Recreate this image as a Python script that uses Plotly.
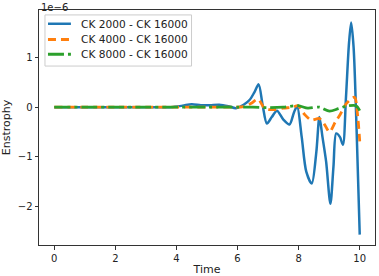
import plotly.graph_objects as go

# values in units of 1e-6
t_blue = [0, 1, 2, 3, 3.8, 4.2, 4.5, 4.8, 5.1, 5.4, 5.7, 5.95, 6.2, 6.4, 6.55, 6.69, 6.82, 6.96, 7.12,
          7.29, 7.5, 7.7, 7.85, 7.95, 8.1, 8.25, 8.43, 8.58, 8.68, 8.78, 8.9, 9.04, 9.14, 9.23, 9.35,
          9.45, 9.55, 9.65, 9.72, 9.8, 9.9, 10.0]
v_blue = [0, 0, 0, 0, 0, 0.03, 0.06, 0.04, 0.04, 0.05, 0.02, -0.02, 0.05, 0.15, 0.3, 0.46, 0.05, -0.33,
          -0.2, -0.07, -0.25, -0.35, -0.1, 0.02, -0.6, -1.3, -1.54, -0.9, -0.2, -0.6, -1.1, -1.95, -1.2,
          -0.53, -0.6, -0.76, 0.2, 1.3, 1.71, 1.2, -0.5, -2.57]

t_orange = [0, 1, 2, 3, 4, 5, 5.8, 6.2, 6.45, 6.67, 6.9, 7.2, 7.5, 7.8, 7.98, 8.2, 8.41, 8.68, 8.85,
            9.01, 9.2, 9.34, 9.56, 9.83, 9.92, 10.0]
v_orange = [0, 0, 0, 0, 0, 0, 0, 0.01, 0.08, 0.16, -0.03, -0.05, -0.02, 0.0, 0.03, -0.15, -0.26, -0.23,
            -0.35, -0.5, -0.3, -0.17, 0.07, 0.2, -0.1, -0.69]

t_green = [0, 1, 2, 3, 4, 5, 6, 6.5, 7, 7.5, 7.98, 8.3, 8.68, 9.01, 9.3, 9.56, 9.88, 10.0]
v_green = [0, 0, 0, 0, 0, 0, 0, 0, -0.01, 0.0, 0.03, -0.02, 0.0, -0.08, -0.03, 0.02, 0.03, -0.07]

names = ["CK 2000 - CK 16000", "CK 4000 - CK 16000", "CK 8000 - CK 16000"]
colors = ["#1f77b4", "#ff7f0e", "#2ca02c"]
dashes = ["solid", "8px,5px", "16px,4px,3px,4px"]
widths = [2.5, 2.8, 2.8]

x_ticks = [0, 2, 4, 6, 8, 10]
y_ticks = [-2, -1, 0, 1]
y_ticktext = ["\u22122", "\u22121", "0", "1"]

series = [(t_blue, v_blue), (t_orange, v_orange), (t_green, v_green)]

fig = go.Figure()
for (tx, vy), nm, c, d, w in zip(series, names, colors, dashes, widths):
    fig.add_trace(go.Scatter(x=tx, y=vy, mode="lines", name=nm, showlegend=False,
                             line=dict(color=c, width=w, dash=d, shape="spline", smoothing=0.8)))

font = "DejaVu Sans"

# manual legend (matplotlib-like), positions in plot-area paper coordinates
shapes = [dict(type="rect", xref="paper", yref="paper", x0=0.0178, x1=0.454, y0=0.7615, y1=0.979,
               line=dict(color="#cccccc", width=1), fillcolor="rgba(255,255,255,0.8)", layer="above")]
annotations = []
row_y = [0.9414, 0.8745, 0.8117]
for nm, c, d, w, ry in zip(names, colors, dashes, widths, row_y):
    shapes.append(dict(type="line", xref="paper", yref="paper", x0=0.0267, x1=0.095, y0=ry, y1=ry,
                       line=dict(color=c, width=w, dash=d), layer="above"))
    annotations.append(dict(text=nm, xref="paper", yref="paper", x=0.1187, y=ry, xanchor="left",
                            yanchor="middle", showarrow=False, font=dict(size=10.6, family=font, color="#222")))

annotations.append(dict(text="1e\u22126", x=0.0, y=1.0418, xref="paper", yref="paper",
                        xanchor="left", yanchor="top", showarrow=False,
                        font=dict(size=10, family=font, color="#222")))

fig.update_layout(
    width=379, height=276,
    margin=dict(l=39, r=3, t=10, b=27),
    paper_bgcolor="white", plot_bgcolor="white",
    font=dict(family=font, size=10, color="#222"),
    showlegend=False,
    xaxis=dict(range=[-0.5, 10.5], tickvals=x_ticks, showgrid=False, zeroline=False,
               showline=True, linecolor="#333", linewidth=1, mirror=True,
               ticks="outside", ticklen=3.5, tickcolor="#333",
               title=dict(text="Time", standoff=2, font=dict(size=11))),
    yaxis=dict(range=[-2.78, 1.96], tickvals=y_ticks, ticktext=y_ticktext, showgrid=False,
               zeroline=False, showline=True, linecolor="#333", linewidth=1, mirror=True,
               ticks="outside", ticklen=3.5, tickcolor="#333",
               title=dict(text="Enstrophy", standoff=6, font=dict(size=11))),
    shapes=shapes,
    annotations=annotations,
)

fig.write_html("out.html")
